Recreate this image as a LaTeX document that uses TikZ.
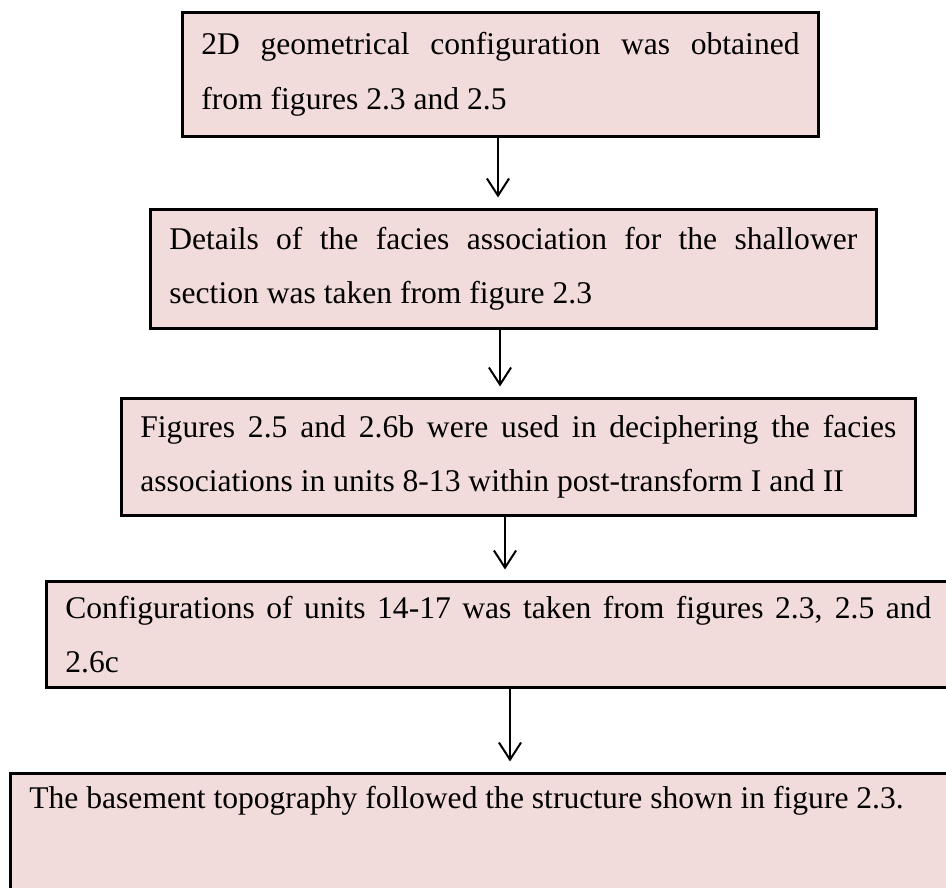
\documentclass[tikz,border=0pt]{standalone}
\usepackage{fontspec}
\setmainfont{Liberation Serif}
\usetikzlibrary{arrows.meta}
\definecolor{boxpink}{RGB}{242,220,219}
\hyphenpenalty=10000
\exhyphenpenalty=10000

\tikzset{
    flowbox/.style={
        draw=black,
        line width=1.1pt,
        fill=boxpink,
        anchor=north west,
        align=justify,
        inner xsep=7.2pt,
        inner ysep=4pt,
        font=\fontsize{12pt}{20.7pt}\selectfont
    },
    flowarrow/.style={
        line width=0.76pt,
        shorten >=4pt,
        -{Straight Barb[length=6.5pt,width=8.4pt]}
    }
}

\begin{document}
\begin{tikzpicture}[x=0.38pt, y=-0.38pt]
    \useasboundingbox (0,0) rectangle (946,888);
    \clip (0,0) rectangle (946,888);

    % boxes
    \node[flowbox, text width=227.3pt, minimum height=47.1pt] (geom) at (181,11)
        {2D geometrical configuration was obtained\linebreak from figures 2.3 and 2.5};
    \node[flowbox, text width=261.4pt, minimum height=45.2pt] (facies) at (149,208)
        {Details of the facies association for the shallower\linebreak section was taken from figure 2.3};
    \node[flowbox, text width=287.3pt, minimum height=44.5pt] (units) at (120,397)
        {Figures 2.5 and 2.6b were used in deciphering the facies\linebreak associations in units 8-13 within post-transform I and II};
    \node[flowbox, text width=329.1pt, minimum height=40.3pt] (config) at (45,580)
        {Configurations of units 14-17 was taken from figures 2.3, 2.5 and\linebreak 2.6c};
    \node[flowbox, text width=360pt, inner ysep=5pt] (basement) at (9,772)
        {The basement topography followed the structure shown in figure 2.3.\par\rule{0pt}{45pt}};

    % arrows
    \coordinate (ax1) at (498,0);
    \coordinate (ax2) at (500,0);
    \coordinate (ax3) at (505,0);
    \coordinate (ax4) at (510,0);
    \draw[flowarrow] (geom.south -| ax1) -- (facies.north -| ax1);
    \draw[flowarrow] (facies.south -| ax2) -- (units.north -| ax2);
    \draw[flowarrow] (units.south -| ax3) -- (config.north -| ax3);
    \draw[flowarrow] (config.south -| ax4) -- (basement.north -| ax4);
\end{tikzpicture}
\end{document}
